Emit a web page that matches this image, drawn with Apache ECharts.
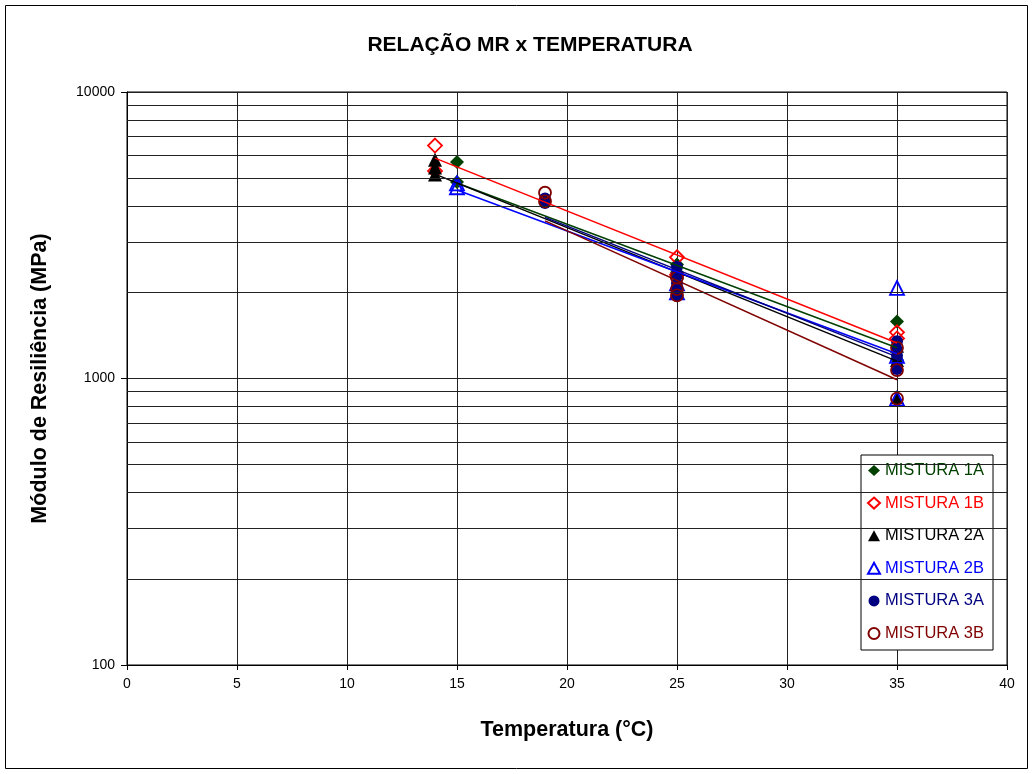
<!DOCTYPE html>
<html>
<head>
<meta charset="utf-8">
<script src="https://cdn.jsdelivr.net/npm/echarts@6/dist/echarts.min.js"></script>
<style>
html,body{margin:0;padding:0;background:#fff;}
#chart{width:1034px;height:774px;}
</style>
</head>
<body>
<div id="chart"></div>
<script>
// ---- data ----
const xTicks = [0, 5, 10, 15, 20, 25, 30, 35, 40];
const yMajorTicks = [100, 1000, 10000];
const yMinorGrid = [200, 300, 400, 500, 600, 700, 800, 900, 2000, 3000, 4000, 5000, 6000, 7000, 8000, 9000];

const names = ['MISTURA 1A', 'MISTURA 1B', 'MISTURA 2A', 'MISTURA 2B', 'MISTURA 3A', 'MISTURA 3B'];

const mix1A = [[15, 5700], [15, 4850], [25, 2500], [25, 2350], [35, 1580], [35, 1160]];
const mix1B = [[14, 6500], [14, 5300], [25, 2650], [25, 2300], [35, 1450], [35, 1380]];
const mix2A = [[14, 5800], [14, 5450], [14, 5150], [25, 2350], [25, 2150], [35, 1300], [35, 1160], [35, 860]];
const mix2B = [[15, 4650], [15, 4800], [25, 2000], [25, 2150], [35, 2070], [35, 1200], [35, 850]];
const mix3A = [[19, 4250], [19, 4100], [25, 2450], [25, 2300], [25, 2150], [25, 2050], [25, 1950], [35, 1350], [35, 1260], [35, 1200], [35, 1080]];
const mix3B = [[19, 4450], [19, 4150], [25, 2250], [25, 2050], [25, 1950], [35, 1280], [35, 1070], [35, 850]];

// trend lines (end points)
const trend1A = [[15, 4810], [35, 1280]];
const trend1B = [[14, 5880], [35, 1330]];
const trend2A = [[14, 5170], [35, 1150]];
const trend2B = [[15, 4550], [35, 1220]];
const trend3A = [[19, 3650], [35, 1190]];
const trend3B = [[19, 3550], [35, 990]];

// ---- styling ----
const colors = ['#004000', '#ff0000', '#000000', '#0000ff', '#000080', '#800000'];
const symbols = ['diamond', 'diamond', 'triangle', 'triangle', 'circle', 'circle'];
const sizes = [14, 14, 14, 14, 12, 12];
const filled = [true, false, true, false, true, false];
const pointsData = [mix1A, mix1B, mix2A, mix2B, mix3A, mix3B];
const trendData = [trend1A, trend1B, trend2A, trend2B, trend3A, trend3B];

const FONT = 'Liberation Sans, Arial, sans-serif';

const series = [];
// minor gridlines on the log axis
series.push({
  type: 'line', data: [], silent: true, z: 1,
  markLine: {
    silent: true, symbol: 'none', animation: false,
    label: {show: false},
    lineStyle: {color: '#222', width: 1, type: 'solid'},
    data: yMinorGrid.map(v => ({yAxis: v}))
  }
});
names.forEach((n, i) => {
  series.push({
    name: n, type: 'scatter', data: pointsData[i], z: 3,
    symbol: symbols[i], symbolSize: sizes[i],
    itemStyle: filled[i]
      ? {color: colors[i], opacity: 1}
      : {color: 'rgba(255,255,255,0)', borderColor: colors[i], borderWidth: 1.8, opacity: 1}
  });
});
names.forEach((n, i) => {
  series.push({
    name: n + ' trend', type: 'line', data: trendData[i], z: 4,
    symbol: 'none', silent: true,
    lineStyle: {color: colors[i], width: 1.5}
  });
});

const option = {
  animation: false,
  backgroundColor: '#fff',
  title: {
    text: 'RELAÇÃO MR x TEMPERATURA',
    left: 525, top: 30, textAlign: 'center',
    textStyle: {fontFamily: FONT, fontWeight: 'bold', fontSize: 21, color: '#000'}
  },
  graphic: [{
    type: 'rect', shape: {x: 5.5, y: 5.5, width: 1022, height: 763},
    style: {fill: 'none', stroke: '#000', lineWidth: 1}, silent: true
  }],
  legend: {
    orient: 'vertical', left: 861, top: 455,
    padding: [7, 9, 8, 6], itemGap: 15.6,
    itemWidth: 12, itemHeight: 11,
    backgroundColor: '#fff', borderColor: '#000', borderWidth: 1,
    data: names.map((n, i) => ({
      name: n,
      textStyle: {color: colors[i], fontFamily: FONT, fontSize: 16.5, lineHeight: 16}
    }))
  },
  grid: {left: 127, right: 27, top: 92, bottom: 109, show: true, borderColor: '#000', borderWidth: 1},
  xAxis: {
    type: 'value', min: 0, max: 40, interval: 5,
    axisLine: {show: true, onZero: false, lineStyle: {color: '#000'}},
    axisTick: {show: true, length: 5, lineStyle: {color: '#000'}},
    axisLabel: {color: '#000', fontSize: 14, margin: 12, fontFamily: FONT,
      formatter: v => xTicks.includes(v) ? String(v) : ''},
    splitLine: {show: true, lineStyle: {color: '#222', width: 1}},
    name: 'Temperatura (°C)', nameLocation: 'middle', nameGap: 54,
    nameTextStyle: {fontFamily: FONT, fontWeight: 'bold', fontSize: 21.5, color: '#000'}
  },
  yAxis: {
    type: 'log', logBase: 10, min: 100, max: 10000,
    axisLine: {show: true, lineStyle: {color: '#000'}},
    axisTick: {show: true, length: 6, lineStyle: {color: '#000'}},
    axisLabel: {color: '#000', fontSize: 14, margin: 12, fontFamily: FONT,
      formatter: v => yMajorTicks.includes(Math.round(v)) ? String(Math.round(v)) : ''},
    splitLine: {show: true, lineStyle: {color: '#222', width: 1}},
    name: 'Módulo de Resiliência (MPa)', nameLocation: 'middle', nameGap: 76,
    nameTextStyle: {fontFamily: FONT, fontWeight: 'bold', fontSize: 21.5, color: '#000'}
  },
  series: series
};

const chart = echarts.init(document.getElementById('chart'), null, {renderer: 'canvas'});
chart.setOption(option);
</script>
</body>
</html>
